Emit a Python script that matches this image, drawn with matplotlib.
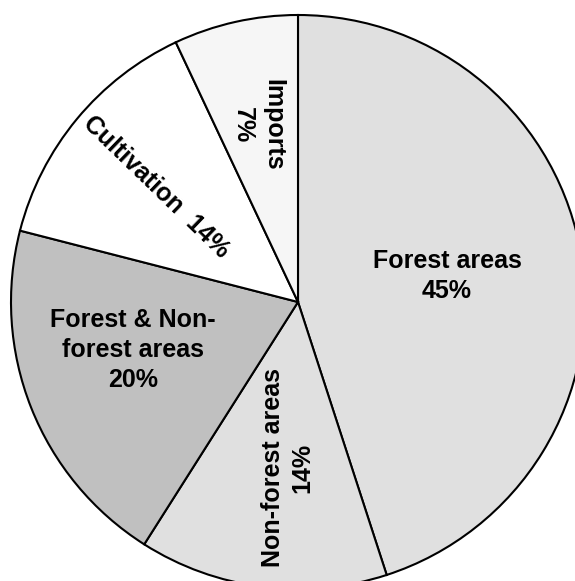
import numpy as np
import matplotlib
matplotlib.use("Agg")
import matplotlib.pyplot as plt

# sources of supply (percent)
labels = ["Forest areas\n45%", "Non-forest areas\n14%", "Forest & Non-\nforest areas\n20%",
          "Cultivation  14%", "Imports\n7%"]
shares = [45, 14, 20, 14, 7]
colors = ["#e0e0e0", "#e0e0e0", "#c0c0c0", "#ffffff", "#f6f6f6"]

# label placement (x, y in pie radius units) and rotation
label_xy = [(0.519, 0.091), (-0.035, -0.578), (-0.575, -0.167), (-0.495, 0.400), (-0.139, 0.617)]
label_rot = [0, 90, 0, -44, -90]

plt.rcParams['font.family'] = ['Liberation Sans', 'DejaVu Sans']

fig = plt.figure(figsize=(5.75, 5.81), dpi=100)
ax = fig.add_axes([0, 0, 1, 1])

ax.pie(shares, colors=colors, startangle=90, counterclock=False, radius=1.0,
       wedgeprops=dict(edgecolor="black", linewidth=1.5))

for txt, (x, y), rot in zip(labels, label_xy, label_rot):
    ax.text(x, y, txt, ha="center", va="center", rotation=rot, rotation_mode="anchor",
            fontsize=18, fontweight="bold", linespacing=1.3)

# pixel geometry: centre at (298, 302), radius 287 px
R = 287.0
ax.set_xlim(-298 / R, (575 - 298) / R)
ax.set_ylim(-(581 - 302) / R, 302 / R)
ax.set_aspect("auto")
ax.axis("off")

fig.savefig("out.png", dpi=100)
